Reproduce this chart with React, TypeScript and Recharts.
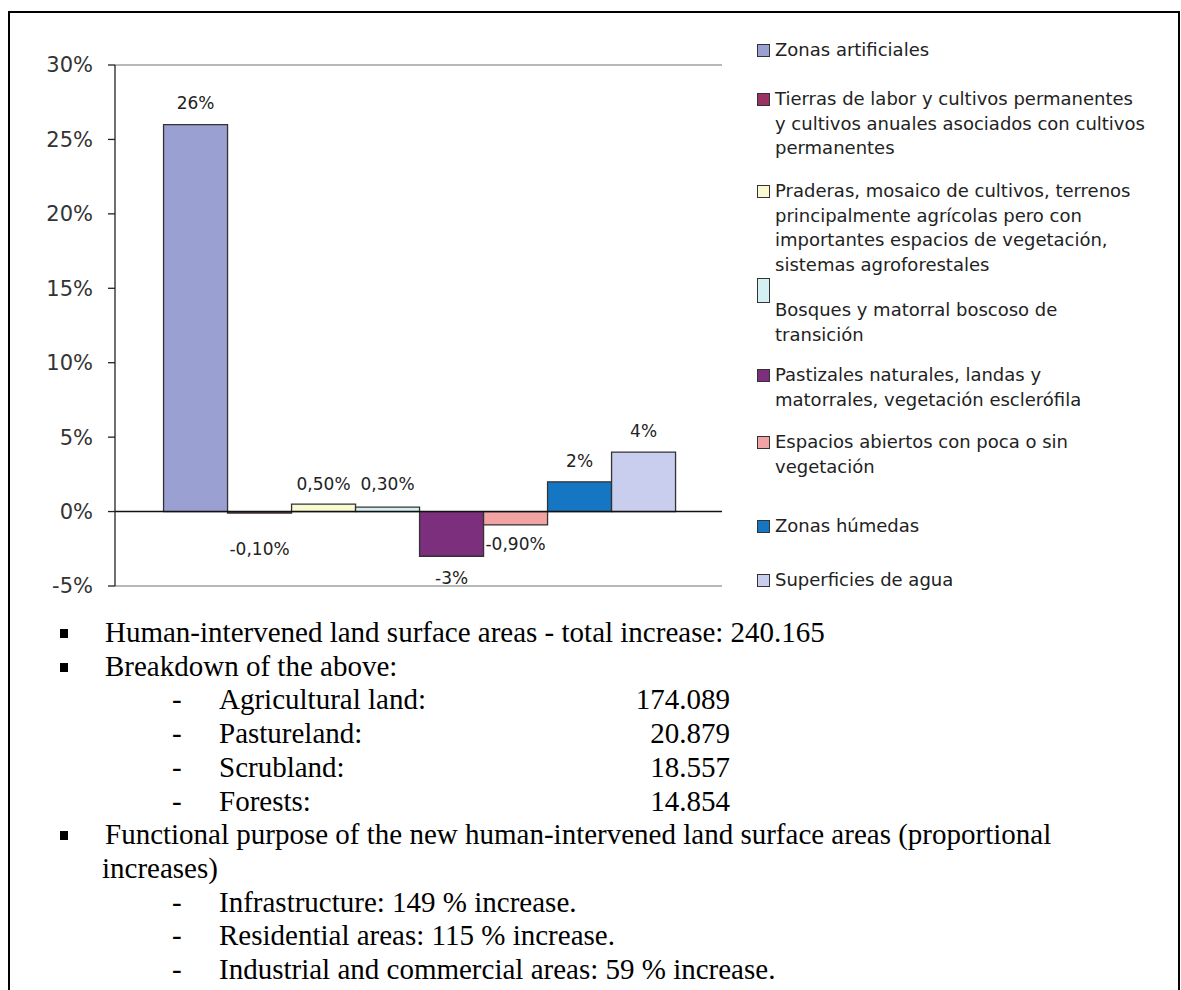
import React from "react"
import {
  BarChart,
  Bar,
  XAxis,
  YAxis,
  CartesianGrid,
  ReferenceLine,
  LabelList
} from "recharts"

// land cover change per class (single period, one bar per class)
const categories = [
  "Zonas artificiales",
  "Tierras de labor y cultivos permanentes y cultivos anuales asociados con cultivos permanentes",
  "Praderas, mosaico de cultivos, terrenos principalmente agrícolas pero con importantes espacios de vegetación, sistemas agroforestales",
  "Bosques y matorral boscoso de transición",
  "Pastizales naturales, landas y matorrales, vegetación esclerófila",
  "Espacios abiertos con poca o sin vegetación",
  "Zonas húmedas",
  "Superficies de agua"
]
const values = [26, -0.1, 0.5, 0.3, -3, -0.9, 2, 4]
const valueLabels = ["26%", "-0,10%", "0,50%", "0,30%", "-3%", "-0,90%", "2%", "4%"]
const yTicks = [-5, 0, 5, 10, 15, 20, 25, 30]

// legend text as wrapped in the original
const legendLines = [
  ["Zonas artificiales"],
  ["Tierras de labor y cultivos permanentes", "y cultivos anuales asociados con cultivos", "permanentes"],
  ["Praderas, mosaico de cultivos, terrenos", "principalmente agrícolas pero con", "importantes espacios de vegetación,", "sistemas agroforestales"],
  ["Bosques y matorral boscoso de", "transición"],
  ["Pastizales naturales, landas y", "matorrales, vegetación esclerófila"],
  ["Espacios abiertos con poca o sin", "vegetación"],
  ["Zonas húmedas"],
  ["Superficies de agua"]
]

// text below the chart
const totalLine = "Human-intervened land surface areas - total increase: 240.165"
const breakdownTitle = "Breakdown of the above:"
const breakdownLabels = ["Agricultural land:", "Pastureland:", "Scrubland:", "Forests:"]
const breakdownValues = ["174.089", "20.879", "18.557", "14.854"]
const purposeTitle = ["Functional purpose of the new human-intervened land surface areas (proportional", "increases)"]
const purposeLines = [
  "Infrastructure: 149 % increase.",
  "Residential areas: 115 % increase.",
  "Industrial and commercial areas: 59 % increase."
]

const colors = ["#9aa1d2", "#993366", "#fafad2", "#d4f0f2", "#7b2f7d", "#f2a3a3", "#1577c4", "#c9cdee"]
const labelGap = [16, 30, 14, 17, 16, 13, 15, 15]
const legendTop = [50, 99, 191, 310, 375, 442, 526, 580]

const row: Record<string, any> = { name: "cambio" }
values.forEach((v, i) => (row["s" + i] = v))
const data = [row]

const sans = "'DejaVu Sans', Verdana, sans-serif"
const serif = "'Liberation Serif', 'Times New Roman', serif"

function makeLabel(i: number) {
  return (props: any) => {
    const { x, y, width, height } = props
    const top = Math.min(y, y + height)
    const bottom = Math.max(y, y + height)
    const cx = x + width / 2
    const ty = values[i] >= 0 ? top - labelGap[i] : bottom + labelGap[i] + 12
    return (
      <text x={cx} y={ty} textAnchor="middle" fontSize={17} fontFamily={sans} fill="#222">
        {valueLabels[i]}
      </text>
    )
  }
}

function ChartLegend() {
  return (
    <div style={{ position: "absolute", left: 0, top: 0 }}>
      {legendLines.map((lines, i) => {
        const c = legendTop[i]
        const tall = i === 3
        return (
          <div key={i}>
            <div
              style={{
                position: "absolute",
                left: 757,
                top: tall ? 278 : c - 6,
                width: 11,
                height: tall ? 23 : 11,
                background: colors[i],
                border: "1.3px solid #333"
              }}
            />
            {lines.map((t, j) => (
              <div
                key={j}
                style={{
                  position: "absolute",
                  left: 775,
                  top: c - 12 + j * 24.5,
                  lineHeight: "24px",
                  fontSize: 18,
                  fontFamily: sans,
                  color: "#222",
                  whiteSpace: "nowrap"
                }}
              >
                {t}
              </div>
            ))}
          </div>
        )
      })}
    </div>
  )
}

const lineH = 33.7
const textTop = 616

function Line({ n, left, children }: { n: number; left: number; children: any }) {
  return (
    <div
      style={{
        position: "absolute",
        left,
        top: textTop + n * lineH,
        fontFamily: serif,
        fontSize: 29,
        lineHeight: lineH + "px",
        color: "#000",
        whiteSpace: "nowrap"
      }}
    >
      {children}
    </div>
  )
}

function Bullet({ n }: { n: number }) {
  return (
    <div
      style={{
        position: "absolute",
        left: 60,
        top: textTop + n * lineH + 13,
        width: 8,
        height: 9,
        background: "#000"
      }}
    />
  )
}

function Dash({ n }: { n: number }) {
  return <Line n={n} left={172}>-</Line>
}

export default function App() {
  return (
    <div style={{ position: "absolute", left: 0, top: 0, width: 1181, height: 990, overflow: "hidden", background: "#fff" }}>
      <div
        style={{
          position: "absolute",
          left: 8,
          top: 11,
          width: 1168,
          height: 990,
          borderLeft: "2px solid #000",
          borderTop: "2px solid #000",
          borderRight: "2px solid #000"
        }}
      />
      <div style={{ position: "absolute", left: 0, top: 0 }}>
        <BarChart
          width={760}
          height={600}
          data={data}
          margin={{ top: 65, right: 38, left: 55, bottom: 14 }}
          barCategoryGap="8%"
          barGap={0}
        >
          <CartesianGrid horizontal vertical={false} horizontalValues={[0, 5, 10, 15, 20, 25]} stroke="#333" strokeWidth={1.3} />
          <XAxis dataKey="name" hide />
          <YAxis
            yAxisId="left"
            domain={[-5, 30]}
            ticks={yTicks}
            interval={0}
            width={60}
            tickFormatter={(v: number) => `${v}%`}
            axisLine={{ stroke: "#222", strokeWidth: 1.3 }}
            tickLine={{ stroke: "#222", strokeWidth: 1.3 }}
            tickSize={7}
            tickMargin={15}
            tick={{ fontSize: 21, fontFamily: sans, fill: "#333" }}
          />
          <YAxis
            yAxisId="right"
            orientation="right"
            domain={[-5, 30]}
            width={0}
            tick={false}
            tickLine={false}
            axisLine={{ stroke: "#a0a0a0", strokeWidth: 1.3 }}
          />
          <ReferenceLine yAxisId="left" y={30} stroke="#a0a0a0" strokeWidth={1.3} />
          <ReferenceLine yAxisId="left" y={-5} stroke="#a0a0a0" strokeWidth={1.3} />
          {categories.map((c, i) => (
            <Bar
              key={c}
              yAxisId="left"
              dataKey={"s" + i}
              name={c}
              fill={colors[i]}
              stroke="#333"
              strokeWidth={1.3}
              isAnimationActive={false}
            >
              <LabelList dataKey={"s" + i} content={makeLabel(i)} />
            </Bar>
          ))}
          <ReferenceLine yAxisId="left" y={0} stroke="#111" strokeWidth={1.5} />
        </BarChart>
      </div>
      <ChartLegend />

      <Bullet n={0} />
      <Line n={0} left={105}>{totalLine}</Line>
      <Bullet n={1} />
      <Line n={1} left={105}>{breakdownTitle}</Line>
      {breakdownLabels.map((t, i) => (
        <React.Fragment key={t}>
          <Dash n={2 + i} />
          <Line n={2 + i} left={219}>{t}</Line>
          <div
            style={{
              position: "absolute",
              left: 600,
              width: 130,
              textAlign: "right",
              top: textTop + (2 + i) * lineH,
              fontFamily: serif,
              fontSize: 29,
              lineHeight: lineH + "px"
            }}
          >
            {breakdownValues[i]}
          </div>
        </React.Fragment>
      ))}
      <Bullet n={6} />
      <Line n={6} left={105}>{purposeTitle[0]}</Line>
      <Line n={7} left={102}>{purposeTitle[1]}</Line>
      {purposeLines.map((t, i) => (
        <React.Fragment key={t}>
          <Dash n={8 + i} />
          <Line n={8 + i} left={219}>{t}</Line>
        </React.Fragment>
      ))}
    </div>
  )
}
